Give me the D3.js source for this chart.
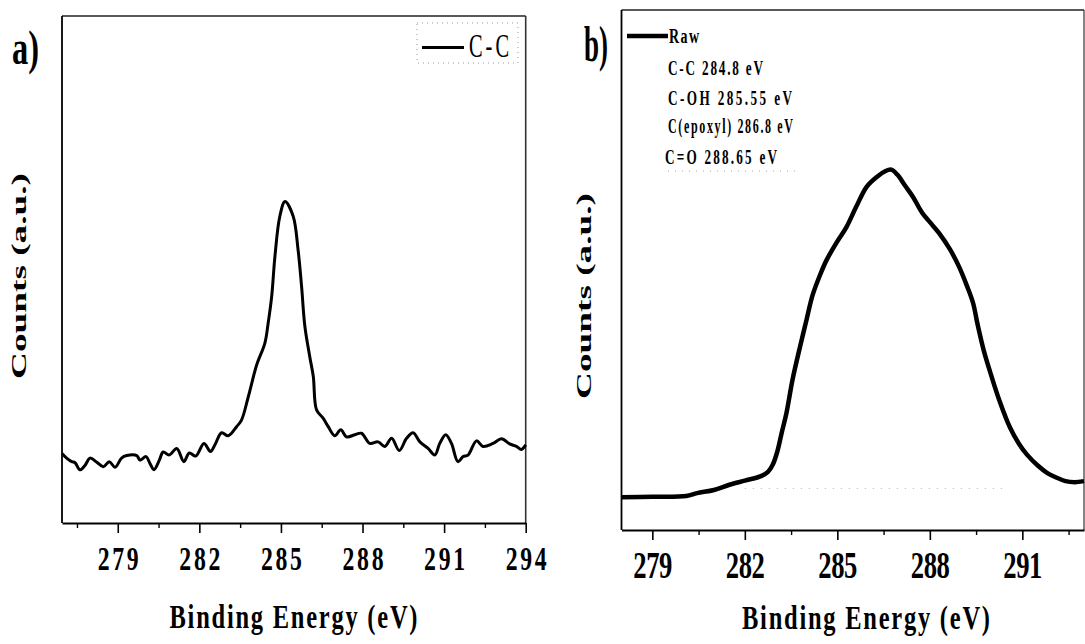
<!DOCTYPE html>
<html>
<head>
<meta charset="utf-8">
<script src="https://cdn.jsdelivr.net/npm/d3@7"></script>
<style>
  html, body { margin: 0; padding: 0; background: #fff; }
  svg { display: block; }
  text { font-family: "Liberation Serif", "DejaVu Serif", serif; font-weight: bold; fill: #000; }
</style>
</head>
<body>
<svg id="chart" width="1085" height="644"></svg>
<script>
// ---- C 1s spectrum, panel a (single C-C component) ----
const energyA = [276.95, 277.12, 277.31, 277.43, 277.61, 277.80, 277.98, 278.23, 278.47, 278.69,
  278.90, 279.14, 279.33, 279.70, 279.82, 280.04, 280.18, 280.33, 280.53, 280.67,
  280.89, 281.17, 281.43, 281.63, 281.87, 282.17, 282.41, 282.57, 282.82, 283.06,
  283.37, 283.55, 283.80, 284.11, 284.41, 284.53, 284.66, 284.78, 284.96, 285.15,
  285.45, 285.63, 285.76, 285.88, 286.06, 286.19, 286.31, 286.55, 286.74, 286.98,
  287.20, 287.41, 287.72, 287.96, 288.27, 288.57, 288.82, 289.07, 289.35, 289.62,
  289.86, 290.11, 290.41, 290.66, 290.84, 291.06, 291.27, 291.51, 291.70, 291.88,
  292.19, 292.43, 292.80, 293.11, 293.41, 293.66, 293.84, 294.00];
const countsA = [137, 128, 121, 119, 105, 114, 128, 120, 111, 121,
  110, 128, 133, 133, 124, 131, 118, 105, 124, 140,
  134, 147, 121, 138, 132, 157, 141, 154, 178, 172,
  190, 203, 249, 312, 355, 394, 447, 526, 605, 634,
  605, 539, 466, 388, 328, 289, 223, 207, 190, 172,
  184, 170, 174, 177, 157, 160, 151, 167, 143, 167,
  178, 160, 147, 134, 157, 174, 157, 121, 131, 134,
  162, 151, 157, 166, 156, 151, 145, 154];

// ---- C 1s spectrum, panel b (raw envelope) ----
const energyB = [278.0, 279.0, 280.1, 280.45, 281.0, 281.5, 282.0, 282.5, 282.75, 282.9,
  283.05, 283.2, 283.35, 283.55, 283.8, 284.0, 284.2, 284.45, 284.65, 285.0,
  285.3, 285.6, 285.95, 286.3, 286.55, 286.75, 286.95, 287.2, 287.45, 287.75,
  288.0, 288.3, 288.65, 288.95, 289.2, 289.4, 289.55, 289.75, 289.95, 290.25,
  290.6, 290.9, 291.15, 291.5, 291.8, 292.1, 292.4, 292.7, 293.0];
const countsB = [63, 64, 65.5, 71, 77, 87, 95, 103, 112, 125,
  150, 188, 225, 290, 355, 404, 452, 492, 519, 555,
  583, 620, 660, 680, 690, 693, 683, 662, 641, 610,
  592, 571, 540, 506, 470, 437, 395, 345, 305, 250,
  197, 165, 145, 124, 110, 101, 94, 92, 94];
// faint remnant of the fitted background under the envelope
const energyBg = [282.0, 290.5];
const countsBg = [80, 80];

// ---- axis ticks and labels ----
const majorTicksA = [279, 282, 285, 288, 291, 294];
const minorTicksA = [277.5, 280.5, 283.5, 286.5, 289.5, 292.5];
const majorTicksB = [279, 282, 285, 288, 291];
const minorTicksB = [280.5, 283.5, 286.5, 289.5, 292.5];
const xTitle = "Binding Energy (eV)";
const yTitle = "Counts (a.u.)";
const legendA = ["C-C"];
const legendB = ["Raw", "C-C 284.8 eV", "C-OH 285.55 eV", "C(epoxyl) 286.8 eV", "C=O 288.65 eV"];

// ---- layout ----
const svg = d3.select("#chart");

// narrow, letter-spaced type: squeeze glyphs horizontally, then spread them to the given width
function narrow(sel, sx, width) {
  return sel.attr("textLength", width / sx).attr("lengthAdjust", "spacing");
}

function panel(opt) {
  const x = d3.scaleLinear().domain(opt.xDomain).range([opt.left, opt.right]);
  const y = d3.scaleLinear().domain([0, 1000]).range([opt.bottom, opt.top]);
  const g = svg.append("g");

  // frame: top and right edges are lighter than the axes
  g.append("line").attr("x1", opt.left).attr("x2", opt.right).attr("y1", opt.top).attr("y2", opt.top)
    .attr("stroke", "#222").attr("stroke-width", 1.6);
  g.append("line").attr("x1", opt.right).attr("x2", opt.right).attr("y1", opt.top).attr("y2", opt.bottom)
    .attr("stroke", "#333").attr("stroke-width", opt.rightWidth);
  g.append("line").attr("x1", opt.left).attr("x2", opt.left).attr("y1", opt.top).attr("y2", opt.bottom)
    .attr("stroke", "#000").attr("stroke-width", 1.8);

  // bottom axis: labelled major ticks + short minor ticks
  const major = g.append("g").attr("transform", `translate(0,${opt.bottom})`)
    .call(d3.axisBottom(x).tickValues(opt.major).tickSize(10).tickSizeOuter(0).tickFormat(d3.format("d")));
  major.select(".domain").attr("stroke", "#000").attr("stroke-width", 2.2);
  major.selectAll(".tick line").attr("stroke", "#000").attr("stroke-width", 1.6);
  major.selectAll(".tick text")
    .attr("x", 0).attr("y", 0).attr("dy", 0)
    .attr("transform", `translate(0,${opt.labelY}) scale(0.72,1)`)
    .attr("font-size", opt.labelSize)
    .style("font-family", "'Liberation Serif', serif").style("font-weight", "bold").attr("fill", "#000")
    .call(narrow, 0.72, opt.labelWidth);

  const minor = g.append("g").attr("transform", `translate(0,${opt.bottom})`)
    .call(d3.axisBottom(x).tickValues(opt.minor).tickSize(5).tickSizeOuter(0).tickFormat(""));
  minor.select(".domain").remove();
  minor.selectAll(".tick line").attr("stroke", "#000").attr("stroke-width", 1.4);

  // axis titles
  g.append("text")
    .attr("transform", `translate(${opt.titleX},${opt.titleY}) scale(0.72,1)`)
    .attr("text-anchor", "middle").attr("font-size", 34)
    .call(narrow, 0.72, opt.titleWidth)
    .text(xTitle);
  g.append("text")
    .attr("transform", `translate(${opt.yTitleX},${opt.yTitleY}) rotate(-90)`)
    .attr("text-anchor", "middle").attr("font-size", 20)
    .attr("textLength", 206).attr("lengthAdjust", "spacingAndGlyphs")
    .style("font-weight", 900)
    .text(yTitle);

  // panel letter
  g.append("text").attr("x", opt.letterX).attr("y", opt.letterY)
    .attr("font-size", opt.letterSize)
    .attr("textLength", opt.letterWidth).attr("lengthAdjust", "spacingAndGlyphs")
    .text(opt.letter);

  return { g, x, y };
}

// ---- panel a ----
const A = panel({
  xDomain: [276.95, 294], left: 62, right: 525.7, top: 16, bottom: 523, rightWidth: 1.6,
  major: majorTicksA, minor: minorTicksA,
  labelY: 47, labelSize: 33, labelWidth: 41,
  titleX: 293.5, titleY: 628, titleWidth: 248,
  yTitleX: 26, yTitleY: 276,
  letter: "a)", letterX: 12, letterY: 64, letterSize: 48, letterWidth: 27
});

A.g.append("path")
  .datum(d3.zip(energyA, countsA))
  .attr("fill", "none").attr("stroke", "#000").attr("stroke-width", 3)
  .attr("stroke-linejoin", "round")
  .attr("d", d3.line().curve(d3.curveCatmullRom.alpha(0.5)).x(d => A.x(d[0])).y(d => A.y(d[1])));

// legend a
A.g.append("rect").attr("x", 417).attr("y", 23).attr("width", 101).attr("height", 40)
  .attr("fill", "none").attr("stroke", "#999").attr("stroke-width", 1).attr("stroke-dasharray", "1,4");
A.g.append("line").attr("x1", 422).attr("x2", 464).attr("y1", 47.5).attr("y2", 47.5)
  .attr("stroke", "#000").attr("stroke-width", 3);
A.g.append("text")
  .attr("transform", "translate(469,57) scale(0.6,1)")
  .attr("font-size", 34)
  .style("font-weight", "normal")
  .call(narrow, 0.6, 40)
  .text(legendA[0]);

// ---- panel b ----
const B = panel({
  xDomain: [278, 293], left: 621.5, right: 1084, top: 10, bottom: 530, rightWidth: 1.2,
  major: majorTicksB, minor: minorTicksB,
  labelY: 48, labelSize: 37, labelWidth: 39,
  titleX: 866, titleY: 629, titleWidth: 248,
  yTitleX: 591, yTitleY: 296,
  letter: "b)", letterX: 584, letterY: 61, letterSize: 50, letterWidth: 24
});

B.g.append("path")
  .datum(d3.zip(energyBg, countsBg))
  .attr("fill", "none").attr("stroke", "#aaa").attr("stroke-width", 1)
  .attr("stroke-dasharray", "1,7")
  .attr("d", d3.line().x(d => B.x(d[0])).y(d => B.y(d[1])));

B.g.append("path")
  .datum(d3.zip(energyB, countsB))
  .attr("fill", "none").attr("stroke", "#000").attr("stroke-width", 4.5)
  .attr("stroke-linejoin", "round")
  .attr("d", d3.line().curve(d3.curveCatmullRom.alpha(0.5)).x(d => B.x(d[0])).y(d => B.y(d[1])));

// legend b: raw line sample followed by component labels
const legendRows = [
  { x: 669, y: 43, size: 20, w: 30, sx: 0.7 },
  { x: 668, y: 75, size: 22, w: 95, sx: 0.6 },
  { x: 668, y: 105, size: 22, w: 124, sx: 0.6 },
  { x: 668, y: 133, size: 20, w: 125, sx: 0.6 },
  { x: 665, y: 164, size: 22, w: 112, sx: 0.6 }
];
B.g.append("line").attr("x1", 627).attr("x2", 668).attr("y1", 36).attr("y2", 36)
  .attr("stroke", "#000").attr("stroke-width", 4.5);
B.g.selectAll("text.legend").data(legendB).join("text")
  .attr("class", "legend")
  .attr("transform", (d, i) => `translate(${legendRows[i].x},${legendRows[i].y}) scale(${legendRows[i].sx},1)`)
  .attr("font-size", (d, i) => legendRows[i].size)
  .attr("textLength", (d, i) => legendRows[i].w / legendRows[i].sx).attr("lengthAdjust", "spacing")
  .text(d => d);
B.g.append("line").attr("x1", 668).attr("x2", 800).attr("y1", 171).attr("y2", 171)
  .attr("stroke", "#aaa").attr("stroke-width", 1).attr("stroke-dasharray", "1,6");
</script>
</body>
</html>
